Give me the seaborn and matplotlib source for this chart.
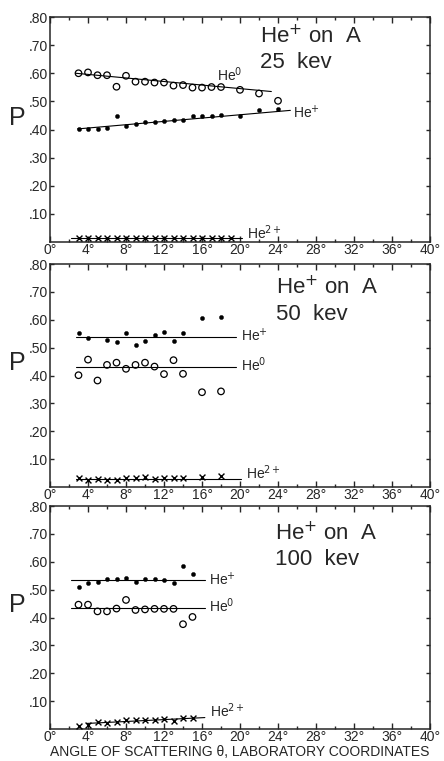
import matplotlib
matplotlib.use('Agg')
import matplotlib.pyplot as plt
import seaborn as sns
import numpy as np
from matplotlib.ticker import MultipleLocator, FixedLocator

sns.set_style('ticks')
plt.rcParams['font.family'] = ['Liberation Sans', 'DejaVu Sans']

# --- 25 kev ---
p1_he0_x = [3, 4, 5, 6, 7, 8, 9, 10, 11, 12, 13, 14, 15, 16, 17, 18, 20, 22, 24]
p1_he0_y = [.600, .603, .593, .593, .552, .591, .570, .570, .567, .567, .556, .558,
            .549, .549, .551, .551, .541, .528, .502]
p1_hep_x = [3, 4, 5, 6, 7, 8, 9, 10, 11, 12, 13, 14, 15, 16, 17, 18, 20, 22, 24]
p1_hep_y = [.402, .402, .402, .407, .449, .414, .421, .426, .426, .430, .435, .435,
            .449, .447, .449, .451, .449, .468, .474]
p1_he2_x = list(range(3, 20))
p1_he2_y = [.015] * 17
p1_fit_he0 = ([2.7, 23.3], [.600, .535])
p1_fit_hep = ([2.9, 25.3], [.402, .468])
p1_fit_he2 = ([2.2, 20.2], [.015, .015])

# --- 50 kev ---
p2_hep_x = [3, 4, 6, 7, 8, 9, 10, 11, 12, 13, 14, 16, 18]
p2_hep_y = [.552, .535, .526, .519, .551, .508, .523, .545, .556, .523, .554, .607, .609]
p2_he0_x = [3, 4, 5, 6, 7, 8, 9, 10, 11, 12, 13, 14, 16, 18]
p2_he0_y = [.401, .457, .382, .438, .446, .424, .438, .446, .432, .405, .455, .406, .340, .343]
p2_he2_x = [3, 4, 5, 6, 7, 8, 9, 10, 11, 12, 13, 14, 16, 18]
p2_he2_y = [.034, .026, .029, .026, .026, .031, .031, .036, .029, .034, .031, .031, .036, .040]
p2_fit_hep = ([2.7, 19.6], [.539, .539])
p2_fit_he0 = ([2.7, 19.6], [.431, .431])
p2_fit_he2 = ([2.7, 20.1], [.028, .028])

# --- 100 kev ---
p3_hep_x = [3, 4, 5, 6, 7, 8, 9, 10, 11, 12, 13, 14, 15]
p3_hep_y = [.511, .522, .529, .538, .538, .543, .528, .537, .538, .534, .525, .586, .557]
p3_he0_x = [3, 4, 5, 6, 7, 8, 9, 10, 11, 12, 13, 14, 15]
p3_he0_y = [.446, .446, .422, .422, .432, .463, .427, .429, .431, .431, .431, .376, .402]
p3_he2_x = [3, 4, 5, 6, 7, 8, 9, 10, 11, 12, 13, 14, 15]
p3_he2_y = [.009, .016, .026, .023, .026, .031, .031, .031, .031, .035, .029, .040, .038]
p3_fit_hep = ([2.2, 16.3], [.533, .533])
p3_fit_he0 = ([2.2, 16.3], [.434, .434])
p3_fit_he2 = ([3.9, 16.3], [.020, .041])

energies = ['25', '50', '100']
title_x = [22.1, 23.8, 23.7]
title_y = [(.706, .617), (.692, .600), (.677, .589)]

# species label positions (x, y) per panel
lab_he0 = [(17.6, .574), (20.1, .416), (16.7, .419)]
lab_hep = [(25.6, .439), (20.1, .524), (16.7, .517)]
lab_he2 = [(20.7, .012), (20.6, .030), (16.8, .043)]

panels = [
    (p1_he0_x, p1_he0_y, p1_hep_x, p1_hep_y, p1_he2_x, p1_he2_y, p1_fit_he0, p1_fit_hep, p1_fit_he2),
    (p2_he0_x, p2_he0_y, p2_hep_x, p2_hep_y, p2_he2_x, p2_he2_y, p2_fit_he0, p2_fit_hep, p2_fit_he2),
    (p3_he0_x, p3_he0_y, p3_hep_x, p3_hep_y, p3_he2_x, p3_he2_y, p3_fit_he0, p3_fit_hep, p3_fit_he2),
]

fig = plt.figure(figsize=(4.44, 7.61), dpi=100)
H = 761.0
W = 444.0
boxes = [(17, 242), (264, 487), (506, 729)]

for i, (box, pdata) in enumerate(zip(boxes, panels)):
    top, bot = box
    ax = fig.add_axes([50 / W, 1 - bot / H, 380 / W, (bot - top) / H])
    he0_x, he0_y, hep_x, hep_y, he2_x, he2_y, f0, fp, f2 = pdata

    for fx, fy in (f0, fp, f2):
        ax.plot(fx, fy, color='black', lw=0.8)

    sns.scatterplot(x=he0_x, y=he0_y, ax=ax, marker='o', s=22, facecolors='none',
                    edgecolor='black', linewidth=0.9, zorder=3)
    sns.scatterplot(x=hep_x, y=hep_y, ax=ax, marker='o', s=9, color='black',
                    edgecolor='black', linewidth=0.3, zorder=3)
    sns.scatterplot(x=he2_x, y=he2_y, ax=ax, marker='x', s=18, color='black',
                    linewidth=1.0, zorder=3)

    ax.set_xlim(0, 40)
    ax.set_ylim(0, 0.8)
    ax.xaxis.set_major_locator(MultipleLocator(4))
    ax.xaxis.set_minor_locator(MultipleLocator(2))
    ax.set_xticklabels([f'{int(v)}°' for v in ax.get_xticks()])
    ax.yaxis.set_major_locator(FixedLocator([.1, .2, .3, .4, .5, .6, .7, .8]))
    ax.set_yticklabels(['.10', '.20', '.30', '.40', '.50', '.60', '.70', '.80'])
    ax.tick_params(axis='x', which='both', direction='in', top=True, bottom=True,
                   labelsize=10, pad=0.5)
    ax.tick_params(axis='x', which='major', length=4, width=1)
    ax.tick_params(axis='x', which='minor', length=2.5, width=1)
    ax.tick_params(axis='y', which='major', direction='in', left=True, right=True,
                   length=3, width=1, labelsize=10, pad=1.5)
    for sp in ax.spines.values():
        sp.set_linewidth(1.1)
        sp.set_visible(True)

    ax.set_ylabel('P', rotation=0, fontsize=18)
    ax.yaxis.set_label_coords(-0.085, 0.5)
    ax.set_xlabel('')

    ty1, ty2 = title_y[i]
    ax.text(title_x[i], ty1, 'He$^{+}$ on  A', fontsize=16, va='baseline', ha='left')
    ax.text(title_x[i], ty2, f'{energies[i]}  kev', fontsize=16, va='baseline', ha='left')

    ax.text(*lab_he0[i], 'He$^{0}$', fontsize=10, va='baseline', ha='left')
    ax.text(*lab_hep[i], 'He$^{+}$', fontsize=10, va='baseline', ha='left')
    ax.text(*lab_he2[i], 'He$^{2+}$', fontsize=10, va='baseline', ha='left')

    if i == 2:
        ax.set_xlabel('ANGLE OF SCATTERING θ, LABORATORY COORDINATES', fontsize=10,
                      labelpad=1)

fig.savefig('out.png', dpi=100)
